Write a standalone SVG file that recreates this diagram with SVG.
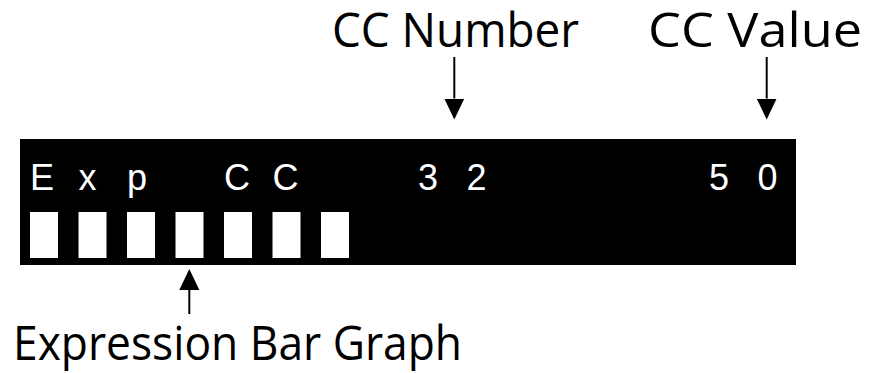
<svg xmlns="http://www.w3.org/2000/svg" width="870" height="373" viewBox="0 0 870 373">
  <style>
    .label { font-family: "Open Sans", "Liberation Sans", sans-serif; font-size: 47px; fill: #000; }
    .lcd { font-family: "Liberation Sans", Arial, sans-serif; font-size: 36px; fill: #fff; }
    .bar { fill: #fff; }
    .conn { stroke: #000; stroke-width: 2; fill: none; }
  </style>
  <defs>
    <marker id="arrow" markerUnits="userSpaceOnUse" markerWidth="21" markerHeight="20" viewBox="0 0 21 20" refX="0" refY="10" orient="auto">
      <path d="M0,0 L21,10 L0,20 Z" fill="#000"/>
    </marker>
  </defs>
  <rect width="870" height="373" fill="#fff"/>

  <g id="lcd-display">
    <rect x="20" y="139" width="776" height="126" fill="#000"/>
    <text class="lcd" x="30 78.5 127" y="190">Exp</text>
    <text class="lcd" x="224 272.5" y="190">CC</text>
    <text class="lcd" x="418 466.5" y="190">32</text>
    <text class="lcd" x="709 757.5" y="190">50</text>
  </g>

  <g id="expression-bar-graph-bars">
    <rect class="bar" x="30" y="212" width="28" height="46"/>
    <rect class="bar" x="78.5" y="212" width="28" height="46"/>
    <rect class="bar" x="127" y="212" width="28" height="46"/>
    <rect class="bar" x="175.5" y="212" width="28" height="46"/>
    <rect class="bar" x="224" y="212" width="28" height="46"/>
    <rect class="bar" x="272.5" y="212" width="28" height="46"/>
    <rect class="bar" x="321" y="212" width="28" height="46"/>
  </g>

  <g id="label-cc-number">
    <text class="label" x="332" y="47" textLength="247" lengthAdjust="spacingAndGlyphs">CC Number</text>
  </g>
  <g id="label-cc-value">
    <text class="label" x="648" y="47" textLength="214" lengthAdjust="spacingAndGlyphs">CC Value</text>
  </g>
  <g id="label-expression-bar-graph">
    <text class="label" x="13" y="360" textLength="449" lengthAdjust="spacingAndGlyphs">Expression Bar Graph</text>
  </g>

  <g id="connectors">
    <line class="conn" x1="454.3" y1="57" x2="454.3" y2="98.5" marker-end="url(#arrow)"/>
    <line class="conn" x1="766.7" y1="57" x2="766.7" y2="98.5" marker-end="url(#arrow)"/>
    <line class="conn" x1="189.3" y1="314" x2="189.3" y2="290" marker-end="url(#arrow)"/>
  </g>
</svg>
